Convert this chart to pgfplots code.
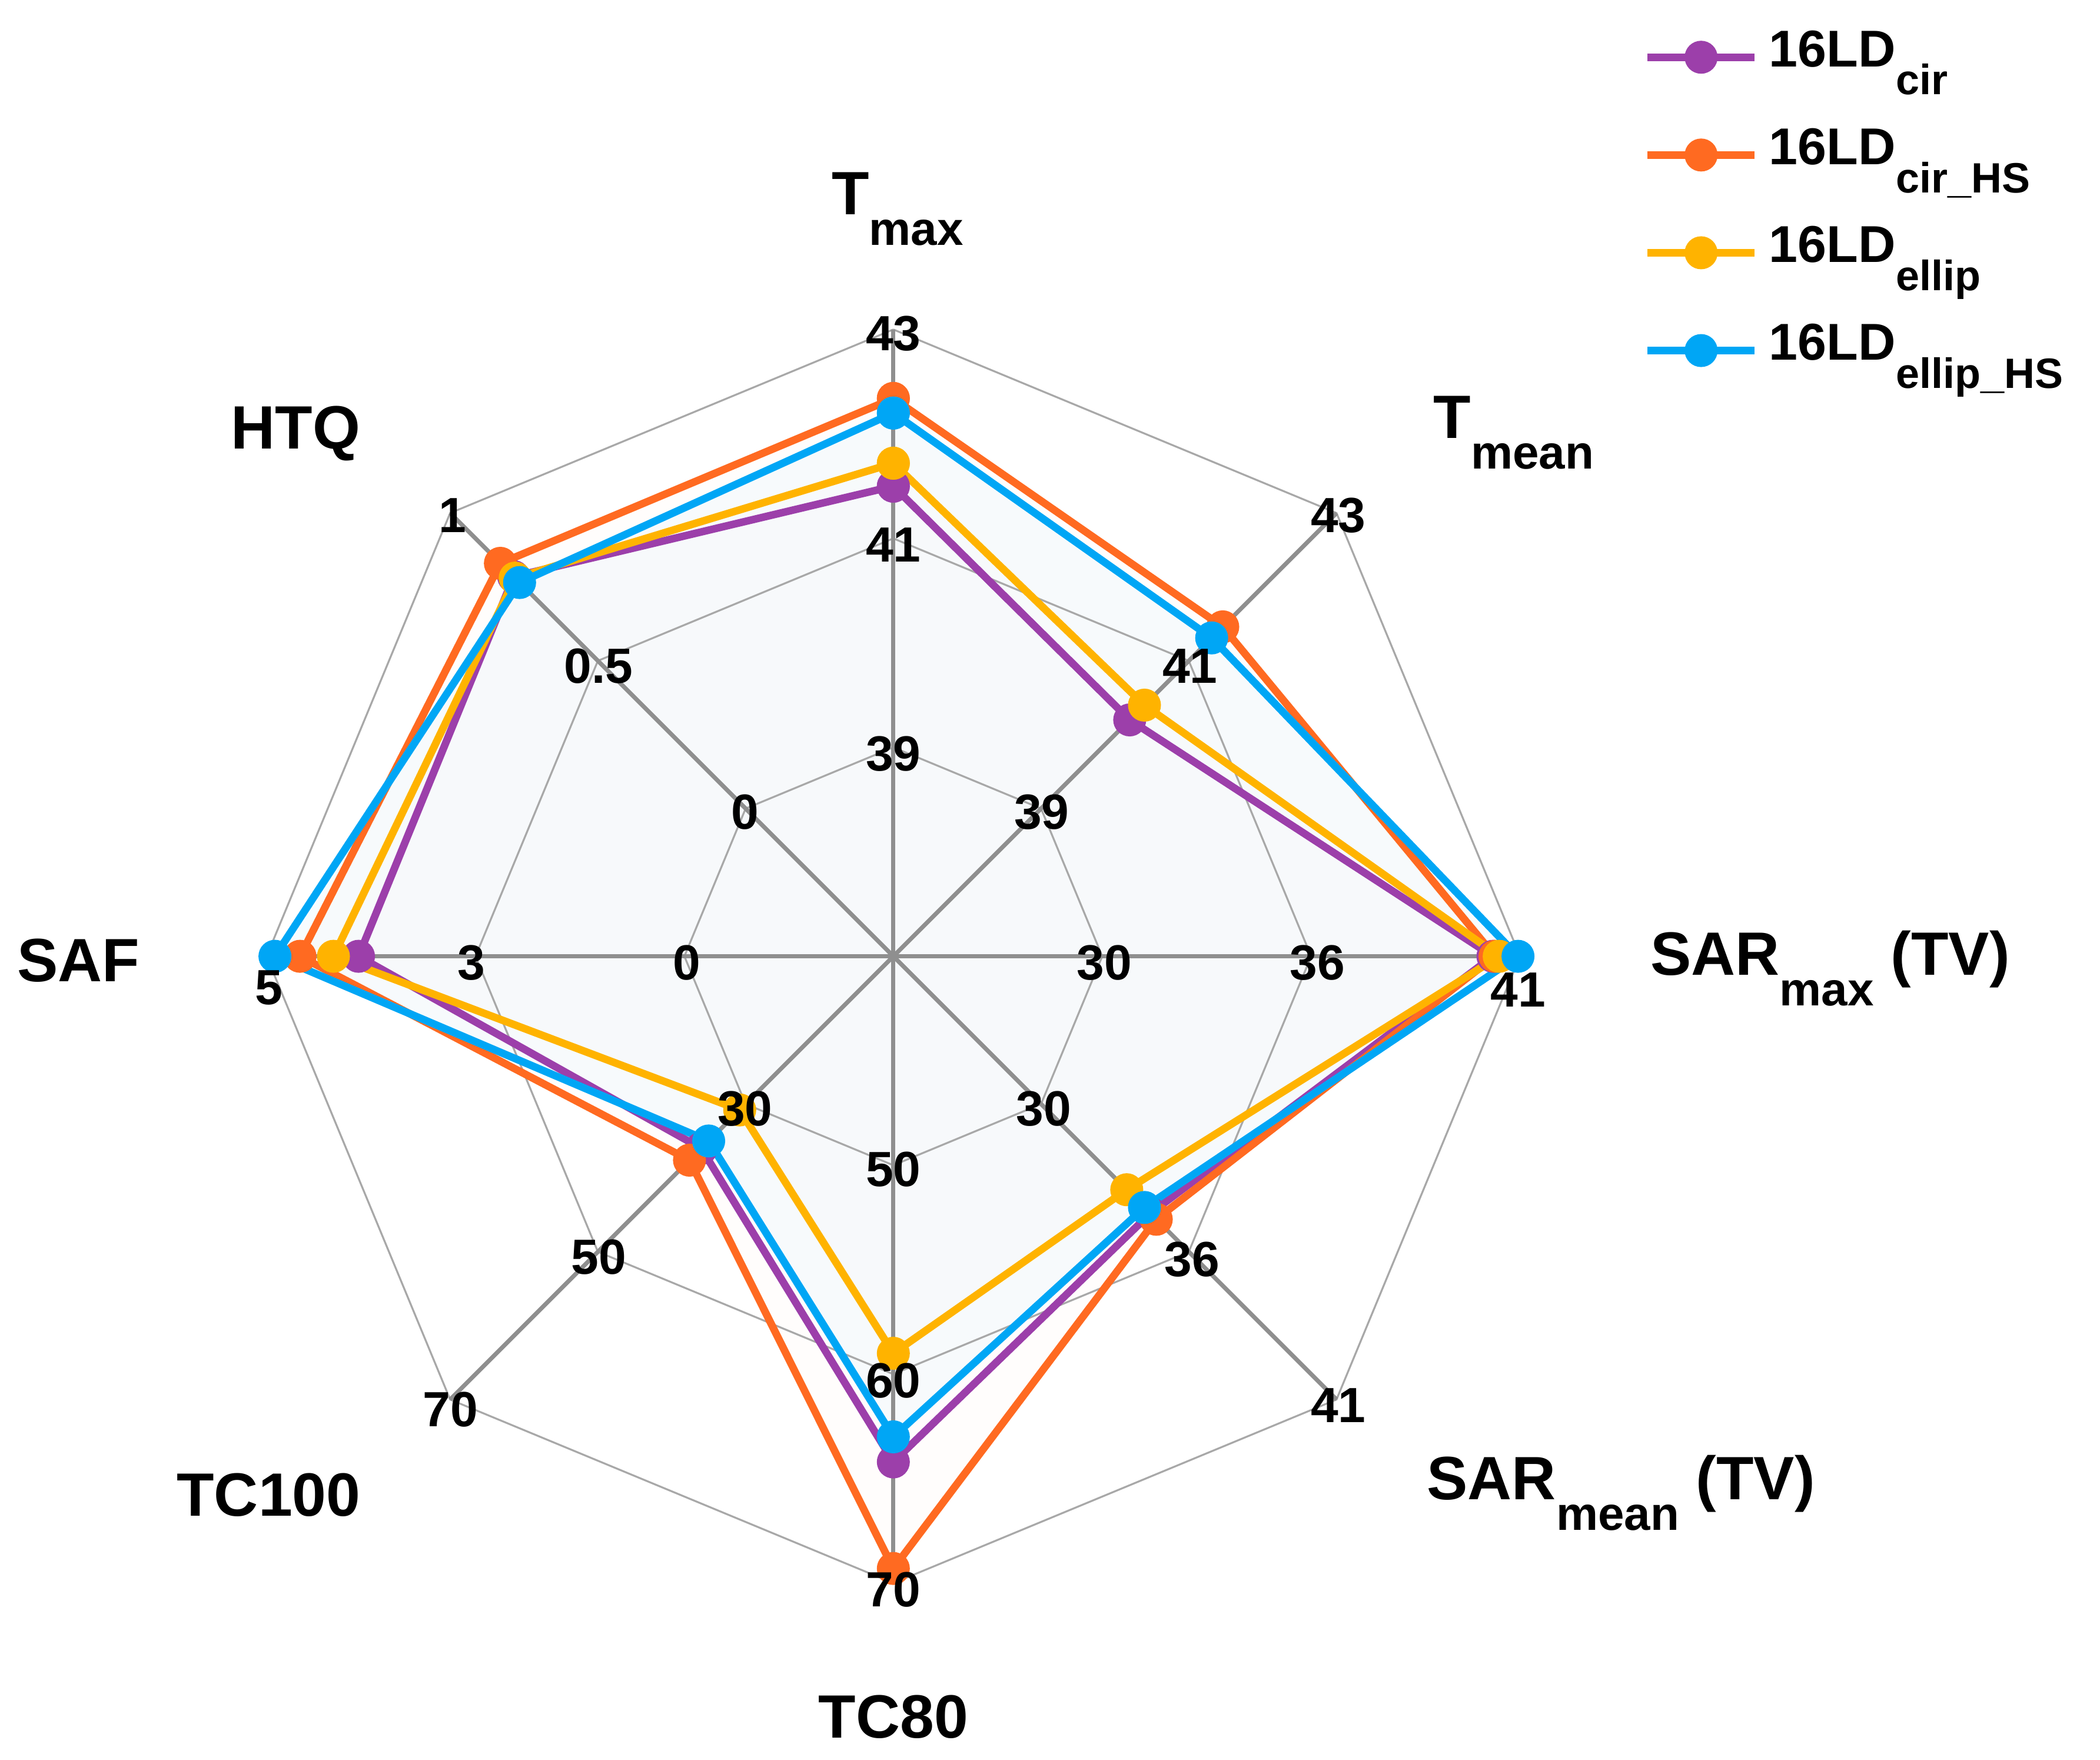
\documentclass[border=0pt]{standalone}
\usepackage{fontspec}
\setmainfont{Liberation Sans}
\usepackage{pgfplots}
\usepackage{pgfplotstable}
\pgfplotsset{compat=1.18}

\definecolor{cpur}{HTML}{9C3FAA}
\definecolor{corg}{HTML}{FF6A21}
\definecolor{cyel}{HTML}{FFB300}
\definecolor{cblu}{HTML}{00A6F5}
\definecolor{cspoke}{HTML}{8F8F8F}
\definecolor{cring}{HTML}{A8A8A8}

\newcommand{\tsub}[1]{\raisebox{-0.23cm}{\fontsize{10pt}{10pt}\selectfont #1}}
\newcommand{\lsub}[1]{\raisebox{-0.21cm}{\fontsize{9pt}{9pt}\selectfont #1}}

% radius in grid-ring units (ring 1, 2, 3 = labelled rings of each axis)
\pgfplotstableread{
angle cir cirHS ellip ellipHS
90    2.25 2.67  2.36  2.60
45    1.60 2.23  1.70  2.155
0     2.87 2.88  2.90  2.99
-45   1.74 1.78  1.58  1.70
-90   2.42 2.93  1.90  2.30
-135  1.30 1.38  1.04  1.25
180   2.56 2.84  2.68  2.96
135   2.57 2.66  2.56  2.53
90    2.25 2.67  2.36  2.60
}\radar

\pgfplotsset{
  ser/.style={color=#1, line width=1.6pt, mark=*, mark size=2.7pt,
    mark options={solid, fill=#1, draw=#1}},
  fil/.style 2 args={draw=none, fill=#1, fill opacity=#2, forget plot, data cs=polar},
}

\begin{document}
\begin{tikzpicture}
\begin{axis}[
  set layers=standard,
  hide axis,
  x=1.56cm, y=1.56cm,
  xmin=-4.276, xmax=5.776, ymin=-3.846, ymax=4.577,
  clip=false,
  legend cell align=left,
  legend image code/.code={\draw[mark repeat=2, mark phase=2, #1] plot coordinates {(0cm,0cm) (0.4cm,0cm) (0.8cm,0cm)};},
  legend style={at={(axis cs:3.52,4.50)}, anchor=north west, draw=none, fill=none,
    font=\fontsize{11pt}{13pt}\selectfont\bfseries,
    cells={anchor=west}, column sep=0.08cm, row sep=0.27cm,
    nodes={inner sep=0pt, text height=0.30cm, text depth=0.16cm}},
]
\coordinate (BL) at (axis cs:-4.276,-3.846);
\coordinate (TR) at (axis cs:5.776,4.577);

% fills
\addplot[fil={cpur}{0.004}] table[x=angle, y=cir] {\radar};
\addplot[fil={corg}{0.012}] table[x=angle, y=cirHS] {\radar};
\addplot[fil={cyel}{0.004}] table[x=angle, y=ellip] {\radar};
\addplot[fil={cblu}{0.03}] table[x=angle, y=ellipHS] {\radar};

% rings
\addplot[cring, line width=0.4pt, data cs=polar, forget plot] coordinates {(90,1)(45,1)(0,1)(-45,1)(-90,1)(-135,1)(180,1)(135,1)(90,1)};
\addplot[cring, line width=0.4pt, data cs=polar, forget plot] coordinates {(90,2)(45,2)(0,2)(-45,2)(-90,2)(-135,2)(180,2)(135,2)(90,2)};
\addplot[cring, line width=0.4pt, data cs=polar, forget plot] coordinates {(90,3)(45,3)(0,3)(-45,3)(-90,3)(-135,3)(180,3)(135,3)(90,3)};
% spokes
\addplot[cspoke, line width=0.9pt, data cs=polar, forget plot] coordinates {(90,3)(-90,3)};
\addplot[cspoke, line width=0.9pt, data cs=polar, forget plot] coordinates {(45,3)(-135,3)};
\addplot[cspoke, line width=0.9pt, data cs=polar, forget plot] coordinates {(0,3)(180,3)};
\addplot[cspoke, line width=0.9pt, data cs=polar, forget plot] coordinates {(135,3)(-45,3)};

% series
\addplot[ser=cpur, data cs=polar] table[x=angle, y=cir] {\radar};
\addlegendentry{16LD\lsub{cir}}
\addplot[ser=corg, data cs=polar] table[x=angle, y=cirHS] {\radar};
\addlegendentry{16LD\lsub{cir\_HS}}
\addplot[ser=cyel, data cs=polar] table[x=angle, y=ellip] {\radar};
\addlegendentry{16LD\lsub{ellip}}
\addplot[ser=cblu, data cs=polar] table[x=angle, y=ellipHS] {\radar};
\addlegendentry{16LD\lsub{ellip\_HS}}

\begin{pgfonlayer}{axis foreground}
% tick labels
\begin{scope}[every node/.style={font=\fontsize{10.5pt}{12pt}\selectfont\bfseries, inner sep=0pt}]
\node at (axis cs:0,2.98) {43};
\node at (axis cs:0,1.97) {41};
\node at (axis cs:0,0.97) {39};
\node at (axis cs:2.13,2.11) {43};
\node at (axis cs:1.42,1.39) {41};
\node at (axis cs:0.71,0.69) {39};
\node at (axis cs:1.01,-0.03) {30};
\node at (axis cs:2.03,-0.03) {36};
\node at (axis cs:2.99,-0.16) {41};
\node at (axis cs:0.72,-0.73) {30};
\node at (axis cs:1.43,-1.45) {36};
\node at (axis cs:2.13,-2.15) {41};
\node at (axis cs:0,-1.02) {50};
\node at (axis cs:0,-2.03) {60};
\node at (axis cs:0,-3.03) {70};
\node at (axis cs:-0.71,-0.73) {30};
\node at (axis cs:-1.41,-1.44) {50};
\node at (axis cs:-2.12,-2.17) {70};
\node at (axis cs:-0.99,-0.03) {0};
\node at (axis cs:-2.02,-0.03) {3};
\node at (axis cs:-2.99,-0.15) {5};
\node at (axis cs:-0.71,0.69) {0};
\node at (axis cs:-1.41,1.39) {0.5};
\node at (axis cs:-2.11,2.11) {1};
\end{scope}

% axis titles
\begin{scope}[every node/.style={font=\fontsize{13pt}{15pt}\selectfont\bfseries, inner sep=0pt}]
\node[anchor=base] at (axis cs:0.02,3.55) {T\tsub{max}};
\node[anchor=base] at (axis cs:2.97,2.48) {T\tsub{mean}};
\node[anchor=base west] at (axis cs:3.62,-0.09) {SAR\tsub{max} (TV)};
\node[anchor=base west] at (axis cs:2.55,-2.60) {SAR\tsub{mean} (TV)};
\node[anchor=base] at (axis cs:0,-3.74) {TC80};
\node[anchor=base] at (axis cs:-2.99,-2.68) {TC100};
\node[anchor=base] at (axis cs:-3.90,-0.12) {SAF};
\node[anchor=base] at (axis cs:-2.86,2.43) {HTQ};
\end{scope}
\end{pgfonlayer}
\end{axis}
\pgfresetboundingbox
\path (BL) rectangle (TR);
\end{tikzpicture}
\end{document}
